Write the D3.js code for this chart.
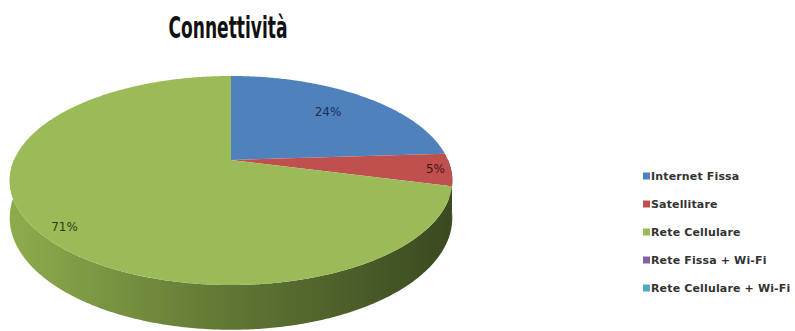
<!DOCTYPE html>
<html><head><meta charset="utf-8">
<script src="https://cdn.jsdelivr.net/npm/d3@7"></script>
<style>body{margin:0;background:#fff}svg{display:block}</style>
</head><body>
<svg id="c" width="795" height="331"></svg>
<script>
const categories = ["Internet Fissa", "Satellitare", "Rete Cellulare", "Rete Fissa + Wi-Fi", "Rete Cellulare + Wi-Fi"];
const values = [24, 5, 71, 0, 0];
const colors = ["#4F81BD", "#C0504D", "#9BBB59", "#8064A2", "#4BACC6"];
const sideColors = [["#3d6391","#2c4a6e"], ["#93403d","#6e2d2b"], ["#8cac4c","#3b4a20"], ["#62497e","#4a3760"], ["#3a8599","#2b6473"]];
const labelColors = ["#1c2f57", "#4a1210", "#2e3d12", "#2f2340", "#1a4550"];
const title = "Connettività";

const svg = d3.select("#c");
const cx = 231, cy = 160, rx = 217, ry = 100.5, p = 0.196, depth = 36;
const labelR = [0.72, 0.93, 0.9, 0.8, 0.8];
const labelDA = [0, 0, -0.058, 0, 0];

function proj(theta, r, h) {
  const X = r * Math.sin(theta), Z = -r * Math.cos(theta);
  const s = 1 / (1 - p * Z);
  return [cx + rx * X * s, cy + (ry * Z + h) * s];
}
function arcPts(a0, a1, h) {
  const n = Math.max(2, Math.ceil(Math.abs(a1 - a0) / 0.01));
  return d3.range(n + 1).map(i => proj(a0 + (a1 - a0) * i / n, 1, h));
}
const line = d3.line();

const pie = d3.pie().sort(null).value(d => d)(values);

const defs = svg.append("defs");
pie.forEach((d, i) => {
  const g = defs.append("linearGradient").attr("id", "sg" + i)
    .attr("gradientUnits", "userSpaceOnUse").attr("x1", cx - rx).attr("x2", cx + rx).attr("y1", 0).attr("y2", 0);
  g.append("stop").attr("offset", 0).attr("stop-color", sideColors[i][0]);
  g.append("stop").attr("offset", 0.45).attr("stop-color", d3.interpolateRgb(sideColors[i][0], sideColors[i][1])(0.5));
  g.append("stop").attr("offset", 1).attr("stop-color", sideColors[i][1]);
});

// sides (front half only)
pie.forEach((d, i) => {
  const b0 = Math.max(d.startAngle, Math.PI / 2), b1 = Math.min(d.endAngle, 3 * Math.PI / 2);
  if (b1 <= b0) return;
  const pts = arcPts(b0, b1, 0).concat(arcPts(b1, b0, depth));
  svg.append("path").attr("d", line(pts) + "Z").attr("fill", "url(#sg" + i + ")");
});
// tops
pie.forEach((d, i) => {
  if (d.endAngle - d.startAngle <= 0) return;
  const pts = [proj(0, 0, 0)].concat(arcPts(d.startAngle, d.endAngle, 0));
  svg.append("path").attr("d", line(pts) + "Z").attr("fill", colors[i]);
});
// labels
const total = d3.sum(values);
pie.forEach((d, i) => {
  if (d.value <= 0) return;
  const m = (d.startAngle + d.endAngle) / 2 + labelDA[i];
  const [x, y] = proj(m, labelR[i], 0);
  svg.append("text").attr("x", x).attr("y", y).attr("text-anchor", "middle").attr("dy", "0.35em")
    .attr("font-family", "DejaVu Sans").attr("font-size", 12).attr("fill", labelColors[i])
    .text(d3.format(".0%")(d.value / total));
});

// title
svg.append("text").attr("x", 228).attr("y", 38).attr("text-anchor", "middle")
  .attr("font-family", "DejaVu Sans Condensed").attr("font-weight", "bold").attr("font-size", 30)
  .attr("textLength", 119).attr("lengthAdjust", "spacingAndGlyphs").attr("fill", "#111")
  .text(title);

// legend
const ly = d3.scalePoint().domain(categories).range([176, 288]);
const lg = svg.append("g");
categories.forEach((c, i) => {
  lg.append("rect").attr("x", 643).attr("y", ly(c) - 3.5).attr("width", 7).attr("height", 7).attr("fill", colors[i]);
  lg.append("text").attr("x", 651).attr("y", ly(c)).attr("dy", "0.35em")
    .attr("font-family", "DejaVu Sans").attr("font-weight", "bold").attr("letter-spacing", 0.15)
    .attr("font-size", 11).attr("fill", "#333").text(c);
});
</script>
</body></html>
